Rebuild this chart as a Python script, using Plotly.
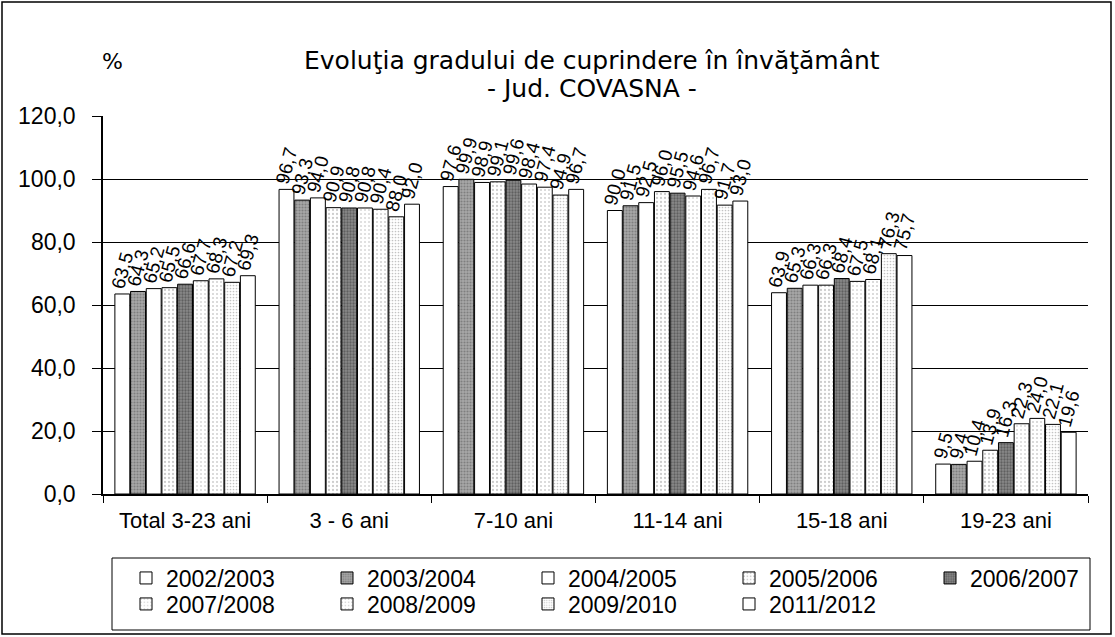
import plotly.graph_objects as go

categories = ["Total 3-23 ani", "3 - 6 ani", "7-10 ani", "11-14 ani", "15-18 ani", "19-23 ani"]
years = ["2002/2003", "2003/2004", "2004/2005", "2005/2006", "2006/2007",
         "2007/2008", "2008/2009", "2009/2010", "2011/2012"]
v2002 = [63.5, 96.7, 97.6, 90.0, 63.9, 9.5]
v2003 = [64.3, 93.3, 99.9, 91.5, 65.3, 9.4]
v2004 = [65.2, 94.0, 98.9, 92.5, 66.3, 10.4]
v2005 = [65.5, 90.9, 99.1, 96.0, 66.3, 13.9]
v2006 = [66.6, 90.8, 99.6, 95.5, 68.4, 16.3]
v2007 = [67.7, 90.8, 98.4, 94.6, 67.5, 22.3]
v2008 = [68.3, 90.4, 97.4, 96.7, 68.1, 24.0]
v2009 = [67.2, 88.0, 94.9, 91.7, 76.3, 22.1]
v2011 = [69.3, 92.0, 96.7, 93.0, 75.7, 19.6]
series = [v2002, v2003, v2004, v2005, v2006, v2007, v2008, v2009, v2011]

styles = [
    dict(color="white", pattern=dict(shape="")),
    dict(color="#9a9a9a", pattern=dict(shape=".", fgcolor="#555555", bgcolor="#a8a8a8", size=3, solidity=0.4)),
    dict(color="white", pattern=dict(shape="")),
    dict(color="white", pattern=dict(shape=".", fgcolor="#9a9a9a", bgcolor="white", size=4, solidity=0.25)),
    dict(color="#777777", pattern=dict(shape=".", fgcolor="#333333", bgcolor="#8a8a8a", size=3, solidity=0.45)),
    dict(color="white", pattern=dict(shape=".", fgcolor="#b0b0b0", bgcolor="white", size=4, solidity=0.2)),
    dict(color="white", pattern=dict(shape=".", fgcolor="#a0a0a0", bgcolor="white", size=4, solidity=0.2)),
    dict(color="white", pattern=dict(shape=".", fgcolor="#888888", bgcolor="white", size=3, solidity=0.25)),
    dict(color="white", pattern=dict(shape="")),
]
legend_of = ["legend", "legend", "legend", "legend", "legend3",
             "legend2", "legend2", "legend2", "legend2"]

FONT = "Liberation Sans, Arial, sans-serif"
TFONT = "DejaVu Sans, Verdana, sans-serif"
fig = go.Figure()
for name, vals, st, lg in zip(years, series, styles, legend_of):
    fig.add_trace(go.Bar(
        name=name, x=categories, y=vals,
        marker=dict(color=st["color"], pattern=st["pattern"],
                    line=dict(color="black", width=1)),
        text=[f"{v:.1f}".replace(".", ",") for v in vals],
        textposition="outside", textangle=-75, constraintext="none",
        cliponaxis=False,
        textfont=dict(family=FONT, size=19, color="black"),
        legend=lg,
    ))

L, R, T, B = 103, 27, 116, 143
W, H = 1115, 637
pw, ph = W - L - R, H - T - B

def px_x(x):
    return (x - L) / pw

def px_y(y):
    return (H - B - y) / ph

leg_common = dict(orientation="h", xanchor="left", yanchor="middle",
                  entrywidth=156, entrywidthmode="pixels", itemwidth=30,
                  font=dict(family=FONT, size=23), bgcolor="rgba(0,0,0,0)")

fig.update_layout(
    width=W, height=H,
    margin=dict(l=L, r=R, t=T, b=B, autoexpand=False),
    paper_bgcolor="white", plot_bgcolor="white",
    barmode="group", bargap=0.14, bargroupgap=0.05,
    separators=", ",
    font=dict(family=FONT, size=22, color="black"),
    legend=dict(x=px_x(126), y=px_y(578), **leg_common),
    legend2=dict(x=px_x(126), y=px_y(604), **leg_common),
    legend3=dict(x=px_x(930), y=px_y(578), **leg_common),
    showlegend=True,
)
fig.update_yaxes(range=[0, 120], dtick=20, tickformat=".1f",
                 showgrid=True, gridcolor="black", gridwidth=1,
                 showline=True, linecolor="black", linewidth=1.5,
                 ticks="outside", ticklen=9, tickcolor="black",
                 ticklabelstandoff=12,
                 tickfont=dict(family=FONT, size=23), zeroline=False)
fig.update_xaxes(showline=True, linecolor="black", linewidth=1.5,
                 ticks="outside", tickson="boundaries", ticklen=7, tickcolor="black",
                 ticklabelstandoff=6,
                 tickfont=dict(family=FONT, size=22))

# title lines
fig.add_annotation(text="Evoluţia gradului de cuprindere în învăţământ",
                   xref="paper", yref="paper", x=px_x(592), y=px_y(44),
                   showarrow=False, font=dict(family=TFONT, size=25))
fig.add_annotation(text="- Jud. COVASNA -",
                   xref="paper", yref="paper", x=px_x(592), y=px_y(72),
                   showarrow=False, font=dict(family=TFONT, size=25))
fig.add_annotation(text="%", xref="paper", yref="paper", x=px_x(100), y=px_y(47),
                   showarrow=False, font=dict(family=TFONT, size=22))
# legend box
fig.add_shape(type="rect", xref="paper", yref="paper",
              x0=px_x(112), x1=px_x(1090), y0=px_y(558), y1=px_y(630),
              line=dict(color="black", width=1))
# outer border
fig.add_shape(type="rect", xref="paper", yref="paper",
              x0=px_x(2), x1=px_x(1111), y0=px_y(2), y1=px_y(634),
              line=dict(color="black", width=1.5))

fig.write_html("out.html", config={"displayModeBar": False},
               post_script="document.body.style.margin='0px';")
